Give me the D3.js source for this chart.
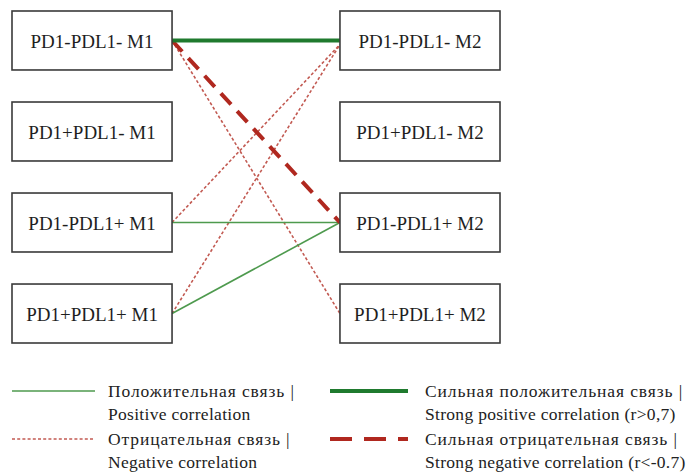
<!DOCTYPE html>
<html><head><meta charset="utf-8">
<script src="https://cdn.jsdelivr.net/npm/d3@7"></script>
<style>body{margin:0;background:#fff} text{font-family:"Liberation Serif","Times New Roman",serif;}</style>
</head><body>
<svg id="c" width="700" height="472"></svg>
<script>
// Data
const groups = ["M1", "M2"];
const phenotypes = ["PD1-PDL1-", "PD1+PDL1-", "PD1-PDL1+", "PD1+PDL1+"];
// links: source phenotype index (M1) -> target phenotype index (M2), with type
const linkSource = [0, 0, 0, 2, 3, 2, 3];
const linkTarget = [0, 2, 3, 0, 0, 2, 2];
const linkType   = ["strongPos", "strongNeg", "neg", "neg", "neg", "pos", "pos"];
const legendTypes = ["pos", "neg", "strongPos", "strongNeg"];
const legendRu = ["Положительная связь |", "Отрицательная связь |", "Сильная положительная связь |", "Сильная отрицательная связь |"];
const legendEn = ["Positive correlation", "Negative correlation", "Strong positive correlation (r>0,7)", "Strong negative correlation (r<-0.7)"];

const styles = {
  pos:       {stroke: "#4e9a4e", width: 1.6, dash: null},
  neg:       {stroke: "#c25a52", width: 1.6, dash: "3,2.2"},
  strongPos: {stroke: "#1f7a2e", width: 4, dash: null},
  strongNeg: {stroke: "#b0281f", width: 4, dash: "15,9"}
};

const svg = d3.select("#c");
const x = d3.scaleBand().domain(groups).range([12, 500]).paddingInner(0.512).paddingOuter(0);
const y = d3.scaleBand().domain(d3.range(phenotypes.length)).range([11, 343]).paddingInner(0.352).paddingOuter(0);

const links = linkSource.map((s, i) => ({s, t: linkTarget[i], type: linkType[i]}));
const order = {neg: 0, pos: 1, strongNeg: 2, strongPos: 3};
links.sort((a, b) => order[a.type] - order[b.type]);

svg.append("g").selectAll("line").data(links).join("line")
  .attr("x1", x("M1") + x.bandwidth())
  .attr("y1", d => y(d.s) + y.bandwidth() / 2)
  .attr("x2", x("M2"))
  .attr("y2", d => y(d.t) + y.bandwidth() / 2 + (d.type === "neg" && d.t === 0 ? 4 : 0))
  .attr("stroke", d => styles[d.type].stroke)
  .attr("stroke-width", d => styles[d.type].width)
  .attr("stroke-dasharray", d => styles[d.type].dash);

const nodes = [];
groups.forEach(g => phenotypes.forEach((p, i) => nodes.push({g, i, label: p + " " + g})));

const ng = svg.append("g").selectAll("g").data(nodes).join("g")
  .attr("transform", d => `translate(${x(d.g)},${y(d.i)})`);
ng.append("rect")
  .attr("width", x.bandwidth()).attr("height", y.bandwidth())
  .attr("fill", "#fff").attr("stroke", "#3a3a3a").attr("stroke-width", 1.6);
ng.append("text")
  .attr("x", x.bandwidth() / 2).attr("y", y.bandwidth() / 2 + 1)
  .attr("text-anchor", "middle").attr("dominant-baseline", "central")
  .style("font-size", "19px").attr("fill", "#1e1e1e")
  .text(d => d.label);

// Legend
const legCol = d3.scaleOrdinal().domain([0, 1]).range([12, 330]);
const legLineLen = d3.scaleOrdinal().domain([0, 1]).range([83, 78]);
const legTextX = d3.scaleOrdinal().domain([0, 1]).range([108, 425]);
const legRow = d3.scaleLinear().domain([0, 1]).range([391, 439]);

const lg = svg.append("g").selectAll("g").data(legendTypes.map((t, i) => ({t, i, col: Math.floor(i / 2), row: i % 2})))
  .join("g");
lg.append("line")
  .attr("x1", d => legCol(d.col)).attr("x2", d => legCol(d.col) + legLineLen(d.col))
  .attr("y1", d => legRow(d.row)).attr("y2", d => legRow(d.row))
  .attr("stroke", d => styles[d.t].stroke)
  .attr("stroke-width", d => styles[d.t].width)
  .attr("stroke-dasharray", d => d.t === "strongNeg" ? "22,12" : styles[d.t].dash);
lg.append("text")
  .attr("x", d => legTextX(d.col)).attr("y", d => legRow(d.row))
  .attr("dominant-baseline", "central")
  .style("font-size", "17.5px").style("letter-spacing", "0.9px").attr("fill", "#222")
  .text(d => legendRu[d.i]);
lg.append("text")
  .attr("x", d => legTextX(d.col)).attr("y", d => legRow(d.row) + 23)
  .attr("dominant-baseline", "central")
  .style("font-size", "17.5px").style("letter-spacing", "0.3px").attr("fill", "#222")
  .text(d => legendEn[d.i]);
</script>
</body></html>
